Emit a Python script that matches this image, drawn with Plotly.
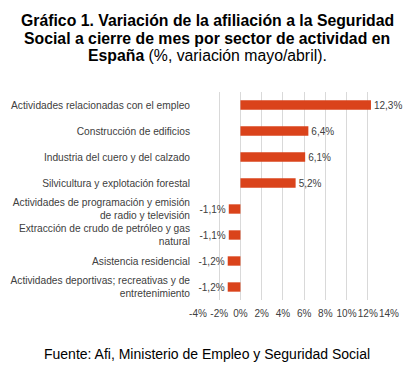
import plotly.graph_objects as go

categories = [
    "Actividades relacionadas con el empleo",
    "Construcción de edificios",
    "Industria del cuero y del calzado",
    "Silvicultura y explotación forestal",
    "Actividades de programación y emisión<br>de radio y televisión",
    "Extracción de crudo de petróleo y gas<br>natural",
    "Asistencia residencial",
    "Actividades deportivas; recreativas y de<br>entretenimiento",
]
values = [12.3, 6.4, 6.1, 5.2, -1.1, -1.1, -1.2, -1.2]
tick_vals = [-4, -2, 0, 2, 4, 6, 8, 10, 12, 14]
tick_text = ["-4%", "-2%", "0%", "2%", "4%", "6%", "8%", "10%", "12%", "14%"]
labels = [f"{v:.1f}%".replace(".", ",") for v in values]
title_lines = [
    "<b>Gráfico 1. Variación de la afiliación a la Seguridad</b>",
    "<b>Social a cierre de mes por sector de actividad en</b>",
    "<b>España</b> (%, variación mayo/abril).",
]
source = "Fuente: Afi, Ministerio de Empleo y Seguridad Social"

FONT = "Liberation Sans, Arial"
H = 366
T, B = 92, 66

fig = go.Figure(go.Bar(
    x=values, y=categories, orientation="h",
    marker=dict(color="#DA431B", line=dict(width=0)),
    text=labels, textposition="outside", cliponaxis=False,
    constraintext="none", hoverinfo="skip",
    textfont=dict(size=10, color="#404040", family=FONT),
))

annotations = []
for line, yc in zip(title_lines, [20, 38, 55]):
    annotations.append(dict(
        text=line, xref="paper", yref="paper", x=0.5, xanchor="center",
        y=1, yanchor="middle", yshift=T - yc, xshift=-86.5, showarrow=False,
        font=dict(size=15.8, color="black", family=FONT)))
annotations.append(dict(
    text=source, xref="paper", yref="paper", x=0.5, xanchor="center",
    y=0, yanchor="middle", yshift=(H - B) - 354, xshift=-86.5, showarrow=False,
    font=dict(size=14, color="black", family=FONT)))

fig.update_layout(
    width=414, height=H,
    margin=dict(l=198, r=25, t=T, b=B, autoexpand=False),
    paper_bgcolor="white", plot_bgcolor="white",
    showlegend=False, bargap=0.64,
    font=dict(family=FONT, color="#404040", size=10),
    xaxis=dict(range=[-4, 14], tickvals=tick_vals, ticktext=tick_text,
               tickangle=0, automargin=False, ticklabelstandoff=6,
               showgrid=True, gridcolor="#D9D9D9", gridwidth=1,
               zeroline=False, showline=False, ticks="",
               tickfont=dict(size=10, color="#404040")),
    yaxis=dict(autorange="reversed", showgrid=False, zeroline=False,
               ticks="", automargin=False, ticklabelstandoff=7,
               tickfont=dict(size=10.2, color="#404040")),
    annotations=annotations,
)

fig.write_html("out.html", post_script="document.body.style.margin='0';",
               config={"displayModeBar": False})
